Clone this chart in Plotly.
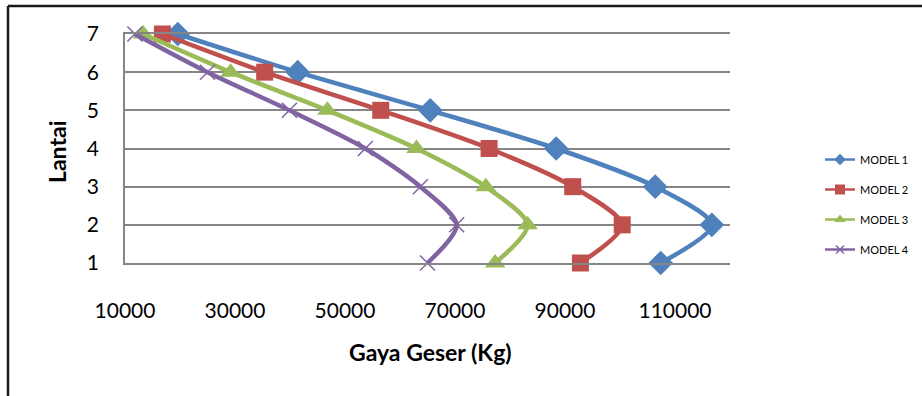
import plotly.graph_objects as go

lantai = [1, 2, 3, 4, 5, 6, 7]
model_1 = [107400, 116700, 106400, 88400, 65500, 41400, 19600]
model_2 = [92800, 100400, 91400, 76200, 56500, 35400, 16800]
model_3 = [77300, 83200, 75600, 63000, 46800, 29200, 13300]
model_4 = [65000, 70300, 63700, 53700, 39900, 25000, 11800]
series_names = ["MODEL 1", "MODEL 2", "MODEL 3", "MODEL 4"]
x_ticks = [10000, 30000, 50000, 70000, 90000, 110000]
y_ticks = [1, 2, 3, 4, 5, 6, 7]

colors = ["#4F81BD", "#C0504D", "#9BBB59", "#8064A2"]
symbols = ["diamond", "square", "triangle-up", "x-thin"]
sizes = [19, 17, 18, 15]
leg_sizes = [9, 10, 10, 8]
FONT = "Lato, Carlito, Calibri, sans-serif"

W, H = 922, 396
L, R, T, B = 125, 192, 34, 133
PW, PH = W - L - R, H - T - B


def px_x(p):
    return (p - L) / PW


def px_y(p):
    return (H - B - p) / PH


fig = go.Figure()
for i, vals in enumerate([model_1, model_2, model_3, model_4]):
    thin = symbols[i] == "x-thin"
    fig.add_trace(go.Scatter(
        x=vals, y=lantai, mode="lines+markers", name=series_names[i],
        line=dict(color=colors[i], width=4.5, shape="spline", smoothing=0.8),
        marker=dict(symbol=symbols[i], size=sizes[i], color=colors[i],
                    line=dict(color=colors[i], width=1.5 if thin else 0)),
        showlegend=False, cliponaxis=False,
    ))
for i in range(4):
    thin = symbols[i] == "x-thin"
    fig.add_trace(go.Scatter(
        x=[None], y=[None], mode="lines+markers", name=series_names[i],
        legendgroup=str(i),
        line=dict(color=colors[i], width=2.5),
        marker=dict(symbol=symbols[i], size=leg_sizes[i], color=colors[i],
                    line=dict(color=colors[i], width=1.5 if thin else 0)),
    ))

frame = dict(color="#1a1a1a", width=2.5)
fig.update_layout(
    width=W, height=H,
    margin=dict(l=L, r=R, t=T, b=B, autoexpand=False),
    paper_bgcolor="white", plot_bgcolor="white",
    font=dict(family=FONT, color="black"),
    showlegend=True,
    legend=dict(x=px_x(820), y=px_y(145), xanchor="left", yanchor="top",
                font=dict(size=11, family=FONT), tracegroupgap=11,
                bgcolor="rgba(0,0,0,0)"),
    xaxis=dict(range=[10000, 120000], tickvals=x_ticks,
               ticktext=[str(v) for v in x_ticks],
               showgrid=False, zeroline=False, showline=True, mirror=True,
               linecolor="#868686", linewidth=1.5,
               ticks="", tickfont=dict(size=21, family=FONT),
               ticklabelstandoff=28),
    yaxis=dict(range=[1, 7], tickvals=y_ticks, showgrid=True,
               gridcolor="#868686", gridwidth=1.5, zeroline=False,
               showline=True, linecolor="#868686", linewidth=1.5,
               ticks="", tickfont=dict(size=21, family=FONT),
               ticklabelstandoff=20),
    shapes=[
        dict(type="line", xref="paper", yref="paper",
             x0=px_x(8), x1=px_x(W), y0=px_y(6), y1=px_y(6), line=frame),
        dict(type="line", xref="paper", yref="paper",
             x0=px_x(8), x1=px_x(8), y0=px_y(6), y1=px_y(H), line=frame),
    ],
    annotations=[
        dict(text="<b>Gaya Geser (Kg)</b>", xref="paper", yref="paper",
             x=px_x(430), y=px_y(352), xanchor="center", yanchor="middle",
             showarrow=False, font=dict(size=23, family=FONT)),
        dict(text="<b>Lantai</b>", xref="paper", yref="paper",
             x=px_x(57), y=px_y(152), xanchor="center", yanchor="middle",
             textangle=-90, showarrow=False, font=dict(size=23, family=FONT)),
    ],
)

fig.write_html("out.html", config={"displayModeBar": False},
               post_script="document.body.style.margin='0';"
                           "document.body.style.overflow='hidden';")
